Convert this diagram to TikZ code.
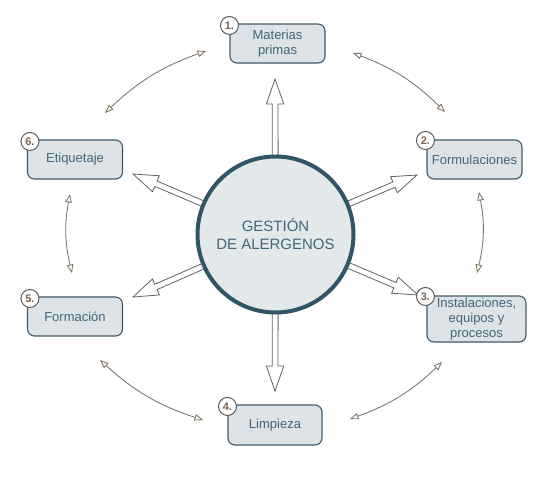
\documentclass[tikz,border=0pt]{standalone}
\usepackage{fontspec}
\setmainfont{Liberation Sans}
\usetikzlibrary{arrows.meta,calc}
\definecolor{boxfill}{HTML}{DDE3E7}
\definecolor{boxline}{HTML}{3F5A69}
\definecolor{circfill}{HTML}{E3E8EB}
\definecolor{circline}{HTML}{2F5566}
\definecolor{txt}{HTML}{44657A}
\definecolor{numtxt}{HTML}{7A6550}
\definecolor{numline}{HTML}{5A5A5A}
\definecolor{curvecol}{HTML}{7F7262}
\definecolor{arrline}{HTML}{5E6366}
\tikzset{
  box/.style={draw=boxline, fill=boxfill, rounded corners=7pt, line width=1.1pt,
    minimum width=95pt, minimum height=39pt, inner sep=0pt, align=center,
    text=txt, font=\fontsize{13}{15}\selectfont},
  numc/.style={circle, draw=numline, fill=white, line width=1pt, minimum size=18pt,
    inner sep=0pt, text=numtxt, font=\bfseries\fontsize{11}{11}\selectfont},
  bigarrow/.style={draw=arrline, fill=white, line width=0.8pt, line join=miter},
  curvy/.style={draw=curvecol, line width=0.85pt,
    {Triangle[open,length=8.5pt,width=6.5pt]}-{Triangle[open,length=8.5pt,width=6.5pt]}},
}
\newcommand\hollowarrow[2]{%
  \draw[bigarrow] let \p1=(#1), \p2=(#2),
    \n1={atan2(\y2-\y1,\x2-\x1)}, \n2={veclen(\x2-\x1,\y2-\y1)} in
    [shift={(\p1)}, rotate=\n1]
    (0,-2.9) -- ({\n2-25},-2.9) -- ({\n2-25},-8.7) -- (\n2,0) --
    ({\n2-25},8.7) -- ({\n2-25},2.9) -- (0,2.9) -- cycle;}
\begin{document}
\begin{tikzpicture}[x=1pt,y=1pt]
\useasboundingbox (0,0) rectangle (553,-496);
% centre position
\coordinate (Cc) at (275.5,-234.5);
% tips of the hollow arrows
\coordinate (t1) at (275,-79);
\coordinate (t2) at (417,-175);
\coordinate (t3) at (418,-295);
\coordinate (t4) at (275,-391);
\coordinate (t5) at (133,-297);
\coordinate (t6) at (133,-174);
\hollowarrow{Cc}{t1}
\hollowarrow{Cc}{t2}
\hollowarrow{Cc}{t3}
\hollowarrow{Cc}{t4}
\hollowarrow{Cc}{t5}
\hollowarrow{Cc}{t6}
% centre circle
\node[circle, minimum size=156pt, inner sep=0pt, draw=circline, line width=4pt,
  fill=circfill, align=center, text=txt, font=\fontsize{15}{18}\selectfont]
  (C) at (Cc) {GESTIÓN\\DE ALERGENOS};
% boxes
\node[box] (b1) at (277.5,-43.5) {\fontsize{13}{16}\selectfont Materias\\primas};
\node[box] (b2) at (474.5,-159.5) {Formulaciones};
\node[box, minimum width=99pt, minimum height=46pt] (b3) at (476.5,-319)
  {\fontsize{13}{13}\selectfont Instalaciones,\\equipos y\\procesos};
\node[box, minimum width=94pt, minimum height=40pt] (b4) at (275,-425) {Limpieza};
\node[box] (b5) at (75,-316.5) {Formación};
\node[box] (b6) at (75,-159.5) {Etiquetaje};
% number badges
\node[numc] (n1) at ($(b1.north west)+(0,-2)$) {1.};
\node[numc] (n2) at ($(b2.north west)+(-1,-1)$) {2.};
\node[numc] (n3) at ($(b3.north west)+(-1,-1)$) {3.};
\node[numc] (n4) at ($(b4.north west)+(0,-2)$) {4.};
\node[numc] (n5) at ($(b5.north west)+(3,-2)$) {5.};
\node[numc] (n6) at ($(b6.north west)+(3,-2)$) {6.};
% curved double arrows
\coordinate (c61a) at (105,-113); \coordinate (c61b) at (206,-51);
\coordinate (c12a) at (353,-53);  \coordinate (c12b) at (445,-112);
\coordinate (c23a) at (479,-192); \coordinate (c23b) at (477,-273);
\coordinate (c34a) at (442,-362); \coordinate (c34b) at (350,-419);
\coordinate (c45a) at (203,-420); \coordinate (c45b) at (100,-360);
\coordinate (c56a) at (72,-273);  \coordinate (c56b) at (70,-194);
\draw[curvy] (c61a) to[bend left=12] (c61b);
\draw[curvy] (c12a) to[bend left=12] (c12b);
\draw[curvy] (c23a) to[bend left=12] (c23b);
\draw[curvy] (c34a) to[bend left=12] (c34b);
\draw[curvy] (c45a) to[bend left=12] (c45b);
\draw[curvy] (c56a) to[bend left=12] (c56b);
\end{tikzpicture}
\end{document}
